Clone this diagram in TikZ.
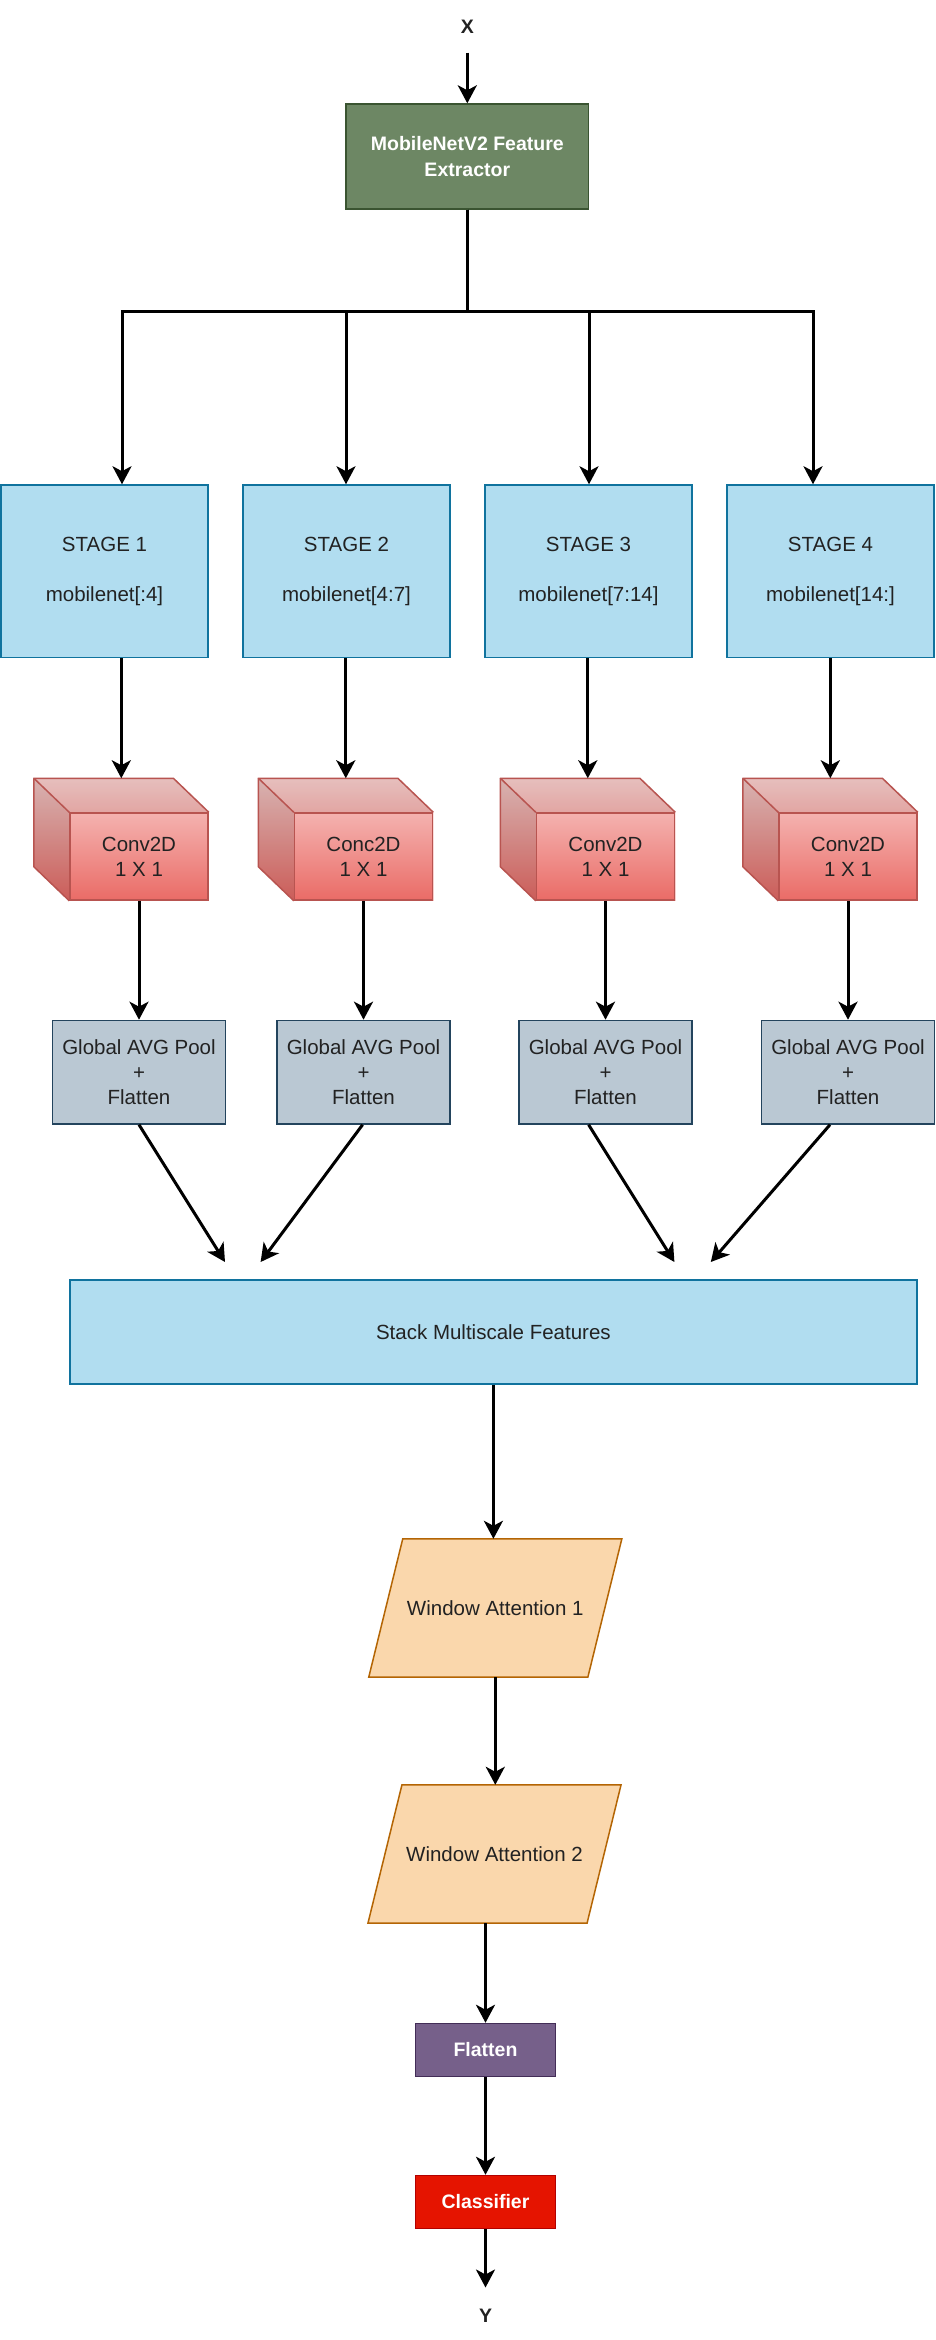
\documentclass[tikz,border=0pt]{standalone}
\usepackage{fontspec}
\setmainfont{Liberation Sans}
\usetikzlibrary{arrows.meta,backgrounds,calc}
\definecolor{stagefill}{HTML}{B1DDF0}
\definecolor{stagestroke}{HTML}{10739E}
\definecolor{gapfill}{HTML}{BAC8D3}
\definecolor{gapstroke}{HTML}{23445D}
\definecolor{greenfill}{HTML}{6D8764}
\definecolor{greenstroke}{HTML}{3A5431}
\definecolor{wafill}{HTML}{FAD7AC}
\definecolor{wastroke}{HTML}{B46504}
\definecolor{flfill}{HTML}{76608A}
\definecolor{flstroke}{HTML}{432D57}
\definecolor{clsfill}{HTML}{E51400}
\definecolor{clsstroke}{HTML}{B20000}
\definecolor{cubetop}{HTML}{F8CECC}
\definecolor{cubebot}{HTML}{EA6B66}
\definecolor{cubestroke}{HTML}{B85450}
\definecolor{txt}{HTML}{222222}
\begin{document}
\begin{tikzpicture}[x=1pt,y=-1pt,
  every node/.style={font=\fontsize{20.5}{25}\selectfont, text=txt, align=center, inner sep=0pt},
  boldtxt/.style={font=\fontsize{19.5}{26}\selectfont\bfseries},
  arr/.style={line width=3pt, -{Stealth[length=18pt,width=19pt,inset=5pt]}},
  stagebox/.style={draw=stagestroke, fill=stagefill, line width=1.5pt, minimum width=207pt, minimum height=172.6pt},
  gapbox/.style={draw=gapstroke, fill=gapfill, line width=1.5pt, minimum width=173pt, minimum height=103.5pt},
  cubefront/.style={draw=cubestroke, line width=1.5pt, minimum width=138pt, minimum height=87pt},
  cubeface/.style={draw=cubestroke, line width=1.5pt, line join=round},
  wabox/.style={minimum width=252.7pt, minimum height=138pt},
  wastyle/.style={draw=wastroke, fill=wafill, line width=1.5pt},
  smallbox/.style={line width=1.5pt, minimum width=140pt, minimum height=53pt, boldtxt, text=white}
]
\useasboundingbox (0,0) rectangle (935,2340);

% input
\node[boldtxt] (X) at (467.3,26.7) {X};
\node[draw=greenstroke, fill=greenfill, line width=1.5pt, minimum width=242.6pt, minimum height=104.7pt, boldtxt, text=white] (g) at (467.3,156.4) {MobileNetV2 Feature\\Extractor};
\draw[arr] ([yshift=-19pt]X.south) -- (g.north);

% stages
\node[stagebox] (s1) at (104.5,571.3) {STAGE 1\\[25pt]mobilenet[:4]};
\node[stagebox] (s2) at (346.5,571.3) {STAGE 2\\[25pt]mobilenet[4:7]};
\node[stagebox] (s3) at (588.5,571.3) {STAGE 3\\[25pt]mobilenet[7:14]};
\node[stagebox] (s4) at (830.5,571.3) {STAGE 4\\[25pt]mobilenet[14:]};

\coordinate (b1) at (122,311.7);
\coordinate (b2) at (346,311.7);
\coordinate (b3) at (589,311.7);
\coordinate (b4) at (813,311.7);
\foreach \i in {1,...,4}{
  \draw[arr] (g.south) |- (b\i) -- (s\i.north -| b\i);
}

% cubes
\node[cubefront] (c1) at (139,856.5) {Conv2D\\1 X 1};
\node[cubefront] (c2) at (363.5,856.5) {Conc2D\\1 X 1};
\node[cubefront] (c3) at (605.5,856.5) {Conv2D\\1 X 1};
\node[cubefront] (c4) at (848,856.5) {Conv2D\\1 X 1};
\foreach \i in {1,...,4}{
  \coordinate (ct\i) at ($(c\i.north)+(-17.7,-34)$);
  \draw[arr] (s\i.south -| ct\i) -- (ct\i);
}

% pooling
\node[gapbox] (p1) at (139,1072.2) {Global AVG Pool\\+\\Flatten};
\node[gapbox] (p2) at (363.5,1072.2) {Global AVG Pool\\+\\Flatten};
\node[gapbox] (p3) at (605.5,1072.2) {Global AVG Pool\\+\\Flatten};
\node[gapbox] (p4) at (848,1072.2) {Global AVG Pool\\+\\Flatten};
\foreach \i in {1,...,4}{
  \draw[arr] (c\i.south) -- (p\i.north);
}

% stack
\node[draw=stagestroke, fill=stagefill, line width=1.5pt, minimum width=847pt, minimum height=104pt] (st) at (493.4,1332) {Stack Multiscale Features};

\coordinate (d1) at (139,1124);
\coordinate (d2) at (362.6,1124);
\coordinate (d3) at (588.6,1124);
\coordinate (d4) at (830,1124);
\coordinate (e1) at (225,1262);
\coordinate (e2) at (260.6,1262);
\coordinate (e3) at (674.4,1262);
\coordinate (e4) at (710.8,1262);
\foreach \i in {1,...,4}{
  \draw[arr] (p\i.south -| d\i) -- (e\i);
}

% window attention
\node[wabox] (wa1) at (495.3,1608) {Window Attention 1};
\node[wabox] (wa2) at (494.5,1854) {Window Attention 2};
\draw[arr] (st.south) -- (st.south |- wa1.north);
\draw[arr] (wa1.south) -- (wa1.south |- wa2.north);

% flatten, classifier
\node[smallbox, draw=flstroke, fill=flfill] (fl) at (485.5,2050) {Flatten};
\node[smallbox, draw=clsstroke, fill=clsfill] (cls) at (485.5,2202) {Classifier};
\node[boldtxt] (Y) at (485.5,2316) {Y};
\draw[arr] (wa2.south -| fl.north) -- (fl.north);
\draw[arr] (fl.south) -- (cls.north);
\draw[arr] (cls.south) -- ([yshift=21.6pt]Y.north);

% background layer: white page, cube faces, parallelograms
\begin{scope}[on background layer]
\fill[white] (0,0) rectangle (935,2340);
\foreach \i in {1,...,4}{
  \shade[top color=cubetop, bottom color=cubebot]
    (c\i.south west) -- ($(c\i.south west)+(-35.4,-34)$) -- ($(c\i.north west)+(-35.4,-34)$)
    -- ($(c\i.north east)+(-35.4,-34)$) -- (c\i.north east) -- (c\i.south east) -- cycle;
  \fill[black, opacity=0.07] (c\i.north west) -- ($(c\i.north west)+(-35.4,-34)$) -- ($(c\i.north east)+(-35.4,-34)$) -- (c\i.north east) -- cycle;
  \fill[black, opacity=0.13] (c\i.north west) -- ($(c\i.north west)+(-35.4,-34)$) -- ($(c\i.south west)+(-35.4,-34)$) -- (c\i.south west) -- cycle;
  \draw[cubeface] (c\i.north west) -- ($(c\i.north west)+(-35.4,-34)$) -- ($(c\i.north east)+(-35.4,-34)$) -- (c\i.north east);
  \draw[cubeface] ($(c\i.north west)+(-35.4,-34)$) -- ($(c\i.south west)+(-35.4,-34)$) -- (c\i.south west);
}
\foreach \n in {wa1,wa2}{
  \filldraw[wastyle] ($(\n.north west)+(34,0)$) -- (\n.north east) -- ($(\n.south east)+(-34,0)$) -- (\n.south west) -- cycle;
}
\end{scope}
\end{tikzpicture}
\end{document}
